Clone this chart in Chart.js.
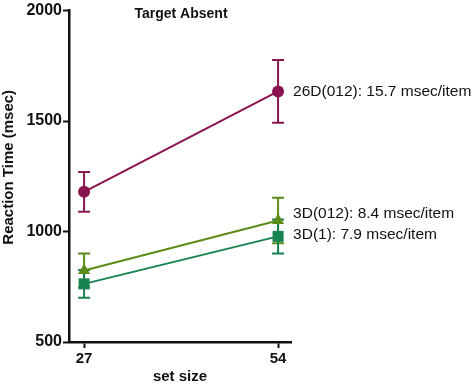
<!DOCTYPE html>
<html>
<head>
<meta charset="utf-8">
<script src="https://cdn.jsdelivr.net/npm/chart.js@4/dist/chart.umd.min.js"></script>
<style>
html,body{margin:0;padding:0;background:#fff;}
#wrap{width:474px;height:384px;position:relative;}
</style>
</head>
<body>
<div id="wrap"><canvas id="c" width="474" height="384"></canvas></div>
<script>
// ---- data ----
const setSizes = [27, 54];
const seriesNames = ["26D(012): 15.7 msec/item", "3D(012): 8.4 msec/item", "3D(1): 7.9 msec/item"];
const rt26D = [1180, 1634];
const err26D = [90, 142];
const rt3D012 = [824, 1050];
const err3D012 = [77, 103];
const rt3D1 = [763, 978];
const err3D1 = [63, 77];
const yTicks = [500, 1000, 1500, 2000];
const xTicks = [27, 54];
const titleText = "Target Absent";
const yTitle = "Reaction Time (msec)";
const xTitle = "set size";

const colors = ["#8a1450", "#5c8c18", "#188250"];
const means = [rt26D, rt3D012, rt3D1];
const errs = [err26D, err3D012, err3D1];
const shapes = ["circle", "triangle", "rect"];
const radii = [6, 7, 7.8];
const labelDy = [0, -7, -2];

const FONT = "Arial, 'Liberation Sans', sans-serif";

const datasets = means.map((m, i) => ({
  label: seriesNames[i],
  data: setSizes.map((x, j) => ({x: x, y: m[j]})),
  borderColor: colors[i],
  backgroundColor: colors[i],
  pointBackgroundColor: colors[i],
  pointBorderColor: colors[i],
  pointStyle: shapes[i],
  pointRadius: radii[i],
  pointBorderWidth: 0,
  borderWidth: 2,
  tension: 0,
  clip: false
}));

const extras = {
  id: 'extras',
  beforeDatasetsDraw(chart) {
    const ctx = chart.ctx, xs = chart.scales.x, ys = chart.scales.y;
    ctx.save();
    ctx.lineWidth = 2;
    means.forEach((m, i) => {
      ctx.strokeStyle = colors[i];
      setSizes.forEach((x, j) => {
        const px = xs.getPixelForValue(x);
        const top = ys.getPixelForValue(m[j] + errs[i][j]);
        const bot = ys.getPixelForValue(m[j] - errs[i][j]);
        ctx.beginPath();
        ctx.moveTo(px, top); ctx.lineTo(px, bot);
        ctx.moveTo(px - 6, top); ctx.lineTo(px + 6, top);
        ctx.moveTo(px - 6, bot); ctx.lineTo(px + 6, bot);
        ctx.stroke();
      });
    });
    ctx.restore();
  },
  afterDraw(chart) {
    const ctx = chart.ctx, xs = chart.scales.x, ys = chart.scales.y, ca = chart.chartArea;
    ctx.save();
    ctx.fillStyle = "#111";
    ctx.textAlign = "center";
    ctx.textBaseline = "middle";
    ctx.font = "bold 14px " + FONT;
    ctx.fillText(titleText, 181, 14);
    ctx.font = "bold 15px " + FONT;
    ctx.fillText(xTitle, (ca.left + ca.right) / 2, 377);
    ctx.save();
    ctx.translate(9, (ca.top + ca.bottom) / 2 - 9);
    ctx.rotate(-Math.PI / 2);
    ctx.fillText(yTitle, 0, 0);
    ctx.restore();
    ctx.textAlign = "left";
    ctx.font = "15.5px " + FONT;
    ctx.fillStyle = "#111";
    const lastX = xs.getPixelForValue(setSizes[setSizes.length - 1]);
    means.forEach((m, i) => {
      const py = ys.getPixelForValue(m[m.length - 1]) + labelDy[i];
      ctx.fillText(seriesNames[i], lastX + 15, py);
    });
    ctx.restore();
  }
};

new Chart(document.getElementById('c'), {
  type: 'line',
  data: { datasets: datasets },
  options: {
    responsive: false,
    animation: false,
    layout: { padding: { top: 8, right: 183, left: 0, bottom: 0 } },
    plugins: { legend: { display: false }, tooltip: { enabled: false }, title: { display: false } },
    scales: {
      x: {
        type: 'linear',
        min: 24.9,
        max: 55.8,
        afterBuildTicks(s) { s.ticks = xTicks.map(v => ({value: v})); },
        afterFit(s) { s.height = 42; },
        grid: { drawOnChartArea: false, drawTicks: true, tickLength: 6, tickWidth: 2, tickColor: '#111' },
        border: { display: true, color: '#111', width: 2.5 },
        ticks: { color: '#111', font: { family: FONT, size: 15, weight: 'bold' }, padding: 2, maxRotation: 0,
                 callback: v => String(v) }
      },
      y: {
        type: 'linear',
        min: 500,
        max: 2000,
        afterBuildTicks(s) { s.ticks = yTicks.map(v => ({value: v})); },
        afterFit(s) { s.width = 69; },
        grid: { drawOnChartArea: false, drawTicks: true, tickLength: 6, tickWidth: 2, tickColor: '#111' },
        border: { display: true, color: '#111', width: 2.5 },
        ticks: { color: '#111', font: { family: FONT, size: 16, weight: 'bold' }, padding: 1,
                 callback: v => String(v) }
      }
    }
  },
  plugins: [extras]
});
</script>
</body>
</html>
